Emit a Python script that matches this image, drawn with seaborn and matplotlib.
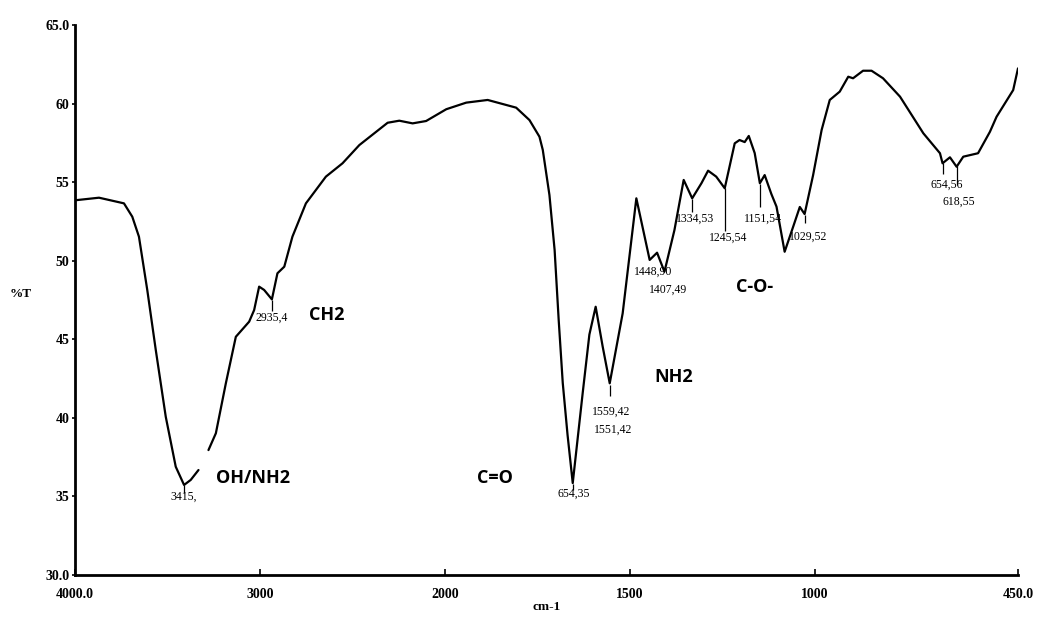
import numpy as np
import pandas as pd
import matplotlib
matplotlib.use("Agg")
import matplotlib.pyplot as plt
import seaborn as sns

# --- spectrum (wavenumber cm-1, %T) ---
# first segment, up to the break near 3330
wn_a = [4000, 3988, 3870, 3735, 3690, 3654, 3609, 3563, 3509, 3455, 3410, 3374, 3332]
t_a = [53.85, 53.86, 54.01, 53.65, 52.8, 51.53, 48.14, 44.32, 40.07, 36.89, 35.73, 36.05, 36.68]

# second segment, from the break down to 450
wn_b = [3278, 3238, 3184, 3130, 3058, 3031, 3004, 2977, 2935, 2905, 2868, 2824, 2751,
        2643, 2553, 2462, 2309, 2246, 2174, 2101, 1996, 1942, 1884, 1807, 1771, 1744,
        1735, 1717, 1703, 1692, 1681, 1668, 1654, 1627, 1609, 1592, 1573, 1554, 1519, 1482,
        1446, 1426, 1406, 1379, 1354, 1331, 1306, 1288, 1266, 1243, 1216, 1203, 1189,
        1178, 1162, 1148, 1135, 1117, 1103, 1081, 1058, 1040, 1027, 1004, 981, 959,
        932, 909, 896, 869, 846, 815, 769, 706, 661, 654, 634, 616, 598, 558, 526, 508,
        463, 450]
t_b = [37.95, 39.02, 42.2, 45.16, 46.12, 46.86, 48.35, 48.14, 47.54, 49.2, 49.62, 51.53, 53.65,
       55.35, 56.2, 57.36, 58.78, 58.91, 58.74, 58.89, 59.64, 60.06, 60.23, 59.74, 58.95, 57.89,
       57.05, 54.18, 50.68, 46.23, 42.22, 38.91, 35.85, 41.6, 45.3, 47.07, 44.53, 42.2, 46.65, 53.97,
       50.05, 50.51, 49.3, 51.95, 55.14, 53.97, 54.93, 55.73, 55.35, 54.61, 57.47, 57.68, 57.55,
       57.94, 56.85, 54.93, 55.45, 54.25, 53.44, 50.57, 52.16, 53.42, 52.97, 55.45, 58.32, 60.23,
       60.76, 61.71, 61.61, 62.09, 62.09, 61.61, 60.44, 58.11, 56.84, 56.2, 56.58, 55.98, 56.62, 56.84,
       58.2, 59.16, 60.86, 62.24]

# peak labels: text, x, y of text
peak_text = ["3415,", "2935,4", "654,35", "1559,42", "1551,42", "1448,90", "1407,49",
             "1334,53", "1245,54", "1151,54", "1029,52", "654,56", "618,55"]
peak_tx = [3410, 2935, 1652, 1550, 1545, 1437, 1397, 1324, 1234, 1139, 1018, 643, 609]
peak_ty = [34.95, 46.35, 35.2, 40.4, 39.27, 49.3, 48.18, 52.64, 51.49, 52.64, 51.53, 54.82, 53.76]

# small marker strokes under the picked peaks: x, top, bottom
mark_x = [3410, 2935, 1654, 1554, 1331, 1243, 1148, 1027, 654, 616]
mark_top = [35.7, 47.5, 35.8, 42.1, 53.9, 54.6, 54.9, 52.9, 56.2, 56.0]
mark_bot = [35.2, 46.8, 35.4, 41.4, 53.1, 51.9, 53.4, 52.4, 55.5, 54.8]

# band assignments
band_text = ["OH/NH2", "CH2", "C=O", "NH2", "C-O-"]
band_x = [3238, 2733, 1912, 1433, 1212]
band_y = [36.15, 46.55, 36.15, 42.62, 48.35]

xticks = [4000, 3000, 2000, 1500, 1000, 450]
xtick_labels = ["4000.0", "3000", "2000", "1500", "1000", "450.0"]
yticks = [30, 35, 40, 45, 50, 55, 60, 65]
ytick_labels = ["30.0", "35", "40", "45", "50", "55", "60", "65.0"]

df = pd.concat([
    pd.DataFrame({"wn": wn_a, "T": t_a, "seg": 0}),
    pd.DataFrame({"wn": wn_b, "T": t_b, "seg": 1}),
])

sns.set_style("ticks", {"text.color": "black", "axes.labelcolor": "black",
                        "xtick.color": "black", "ytick.color": "black",
                        "axes.edgecolor": "black"})
serif = ["Liberation Serif", "DejaVu Serif"]


# the instrument axis halves its scale above 2000 cm-1
def fwd(x):
    x = np.asarray(x, dtype=float)
    return np.where(x > 2000, 2000 + (x - 2000) / 2, x)


def inv(t):
    t = np.asarray(t, dtype=float)
    return np.where(t > 2000, 2000 + (t - 2000) * 2, t)


fig = plt.figure(figsize=(10.47, 6.25), dpi=100)
ax = fig.add_axes([0.0716, 0.08, 0.9007, 0.88])

sns.lineplot(data=df, x="wn", y="T", units="seg", estimator=None, sort=False,
             color="black", linewidth=1.6, ax=ax)

ax.set_xscale("function", functions=(fwd, inv))
ax.set_xlim(4000, 450)
ax.set_ylim(30, 65)

ax.vlines(mark_x, mark_bot, mark_top, color="black", linewidth=0.9)

for s, x, y in zip(peak_text, peak_tx, peak_ty):
    ax.text(x, y, s, ha="center", va="center", fontsize=8.5, family=serif, color="black")

for s, x, y in zip(band_text, band_x, band_y):
    ax.text(x, y, s, ha="left", va="center", fontsize=13, fontweight="bold",
            family=["Open Sans", "DejaVu Sans"], color="black")

ax.set_xticks(xticks)
ax.set_xticklabels(xtick_labels, fontsize=10, fontweight="bold", family=serif)
ax.set_yticks(yticks)
ax.set_yticklabels(ytick_labels, fontsize=10, fontweight="bold", family=serif)
ax.xaxis.set_minor_locator(matplotlib.ticker.NullLocator())
ax.tick_params(axis="x", direction="in", length=4, width=1.2, pad=9)
ax.tick_params(axis="y", direction="out", length=2, width=1.2, pad=2)

ax.set_xlabel("cm-1", fontsize=9.5, fontweight="bold", family=serif, labelpad=0)
ax.set_ylabel("%T", fontsize=9.5, fontweight="bold", family=serif, rotation=0, labelpad=18)
ax.yaxis.set_label_coords(-0.058, 0.5)

sns.despine(ax=ax)
ax.spines["left"].set_linewidth(2)
ax.spines["bottom"].set_linewidth(2)

fig.savefig("out.png", dpi=100)
